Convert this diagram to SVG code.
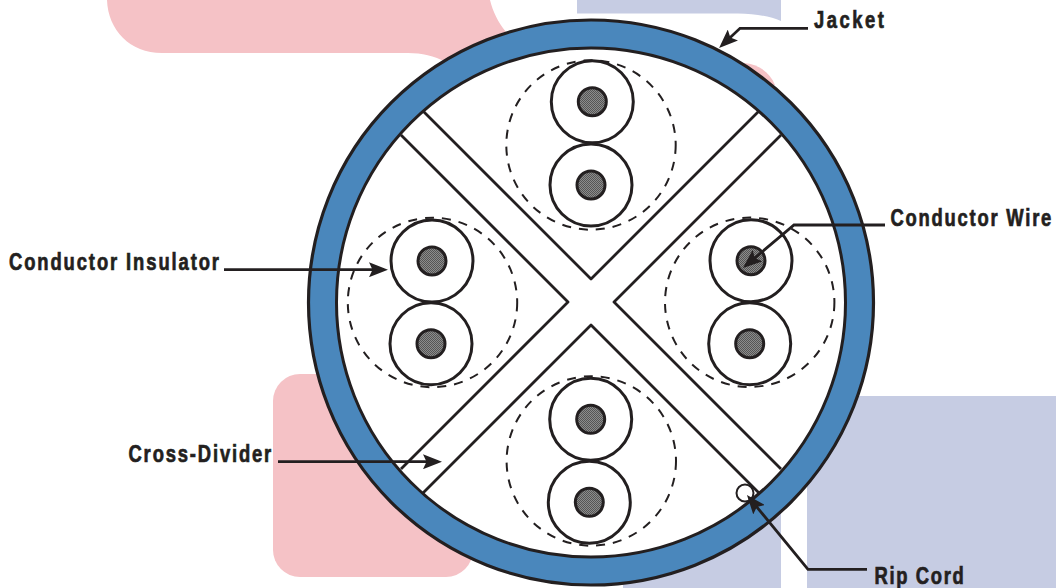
<svg xmlns="http://www.w3.org/2000/svg" width="1056" height="588" viewBox="0 0 1056 588">
<style>
.pink{fill:#f5c2c6}
.lav{fill:#c6cce3}
.jacket{fill:#4a87bc;stroke:#231f20;stroke-width:3.2}
.inner{fill:#fff;stroke:#231f20;stroke-width:3}
.div{fill:none;stroke:#231f20;stroke-width:2.8;stroke-linejoin:round;stroke-linecap:butt}
.ins{fill:#fff;stroke:#231f20;stroke-width:3}
.core{fill:url(#hatch);stroke:#231f20;stroke-width:3}
.shield{fill:none;stroke:#231f20;stroke-width:2;stroke-dasharray:9 8}
.lead{fill:none;stroke:#231f20;stroke-width:2.8;stroke-linejoin:miter;marker-end:url(#head)}
.lab{font-family:"Liberation Sans",Arial,sans-serif;font-weight:700;font-size:23px;letter-spacing:2.5px;fill:#231f20;stroke:#231f20;stroke-width:.7}
</style>
<defs>
<pattern id="hatch" width="2" height="2" patternUnits="userSpaceOnUse">
<rect width="2" height="2" fill="#8c8c8c"/>
<rect width="1" height="1" fill="#555"/>
<rect x="1" y="1" width="1" height="1" fill="#555"/>
</pattern>
<marker id="head" markerUnits="userSpaceOnUse" markerWidth="19" markerHeight="15" viewBox="0 0 19 15" refX="15" refY="7.5" orient="auto">
<path d="M0,0 L19,7.5 L0,15 L3.5,7.5 Z" fill="#231f20"/>
</marker>
</defs>
<g id="background">
<path class="pink" d="M107,0 C108,30 130,53 162,53 L408,53 C422,53 434,56 446,62 L560,120 L520,40 L506,32 C498,22 493,12 490,0 Z"/>
<path class="pink" d="M744,63 C758,64 770,72 775,85 L745,90 Z"/>
<rect class="pink" x="273" y="374" width="200" height="203" rx="27"/>
<path class="lav" d="M577,0 L577,13.5 L738,13.5 C755,14 770,16 781,21 L781,0 Z"/>
<rect class="lav" x="623" y="450" width="158" height="138"/>
<rect class="lav" x="807" y="396" width="249" height="192"/>
</g>
<g id="jacket"><circle class="jacket" cx="591" cy="302.5" r="282.5"/><circle class="inner" cx="591" cy="302.5" r="254.5"/></g>
<g id="cross-divider">
<path class="div" d="M423,111 L591,279 L759,111"/>
<path class="div" d="M781,135 L614,302 L781,469"/>
<path class="div" d="M759,493 L591,325 L423,493"/>
<path class="div" d="M401,469 L568,302 L401,135"/>
</g>
<g id="pair-top">
<circle class="shield" cx="591" cy="145" r="84.7"/>
<circle class="ins" cx="592.3" cy="101.7" r="41"/><circle class="core" cx="592.3" cy="101.7" r="14"/>
<circle class="ins" cx="591" cy="185" r="41"/><circle class="core" cx="591" cy="185" r="14"/>
</g>
<g id="pair-right">
<circle class="shield" cx="749.7" cy="302.3" r="84.7"/>
<circle class="ins" cx="751" cy="260.7" r="41"/><circle class="core" cx="751" cy="260.7" r="14"/>
<circle class="ins" cx="749.7" cy="343.7" r="41"/><circle class="core" cx="749.7" cy="343.7" r="14"/>
</g>
<g id="pair-left">
<circle class="shield" cx="432.5" cy="302.5" r="84.7"/>
<circle class="ins" cx="432" cy="261" r="41"/><circle class="core" cx="432" cy="261" r="14"/>
<circle class="ins" cx="431" cy="343.7" r="41"/><circle class="core" cx="431" cy="343.7" r="14"/>
</g>
<g id="pair-bottom">
<circle class="shield" cx="591.3" cy="461" r="84.7"/>
<circle class="ins" cx="590.7" cy="419.3" r="41"/><circle class="core" cx="590.7" cy="419.3" r="14"/>
<circle class="ins" cx="589.3" cy="502.3" r="41"/><circle class="core" cx="589.3" cy="502.3" r="14"/>
</g>
<g id="rip-cord"><circle cx="745" cy="493" r="8.5" fill="#fff" stroke="#231f20" stroke-width="2"/></g>
<g id="connectors">
<polyline class="lead" points="808,28.3 740,28.3 722,45.3"/>
<polyline class="lead" points="885,225 794,225 746,265.4"/>
<polyline class="lead" points="224,269.7 384,269.7"/>
<polyline class="lead" points="278,461.7 438,461.7"/>
<polyline class="lead" points="867,569.3 808,569.3 749.5,498.1"/>
</g>
<g id="labels">
<text class="lab" transform="translate(814 27.5) scale(.8 1)" textLength="90" lengthAdjust="spacing">Jacket</text>
<text class="lab" transform="translate(890.5 225.7) scale(.8 1)" textLength="203.5" lengthAdjust="spacing">Conductor Wire</text>
<text class="lab" transform="translate(9 270) scale(.8 1)" textLength="265" lengthAdjust="spacing">Conductor Insulator</text>
<text class="lab" transform="translate(128.5 461.5) scale(.8 1)" textLength="181" lengthAdjust="spacing">Cross-Divider</text>
<text class="lab" transform="translate(874.5 584) scale(.8 1)" textLength="114" lengthAdjust="spacing">Rip Cord</text>
</g>
</svg>
